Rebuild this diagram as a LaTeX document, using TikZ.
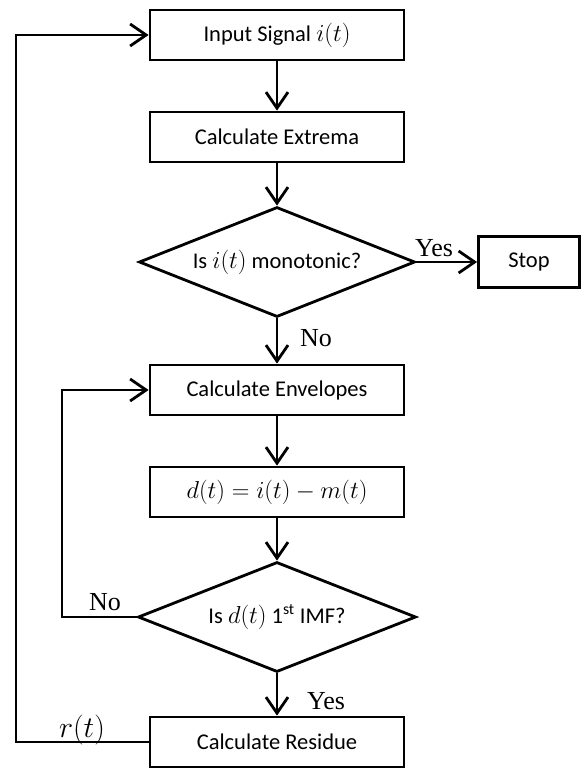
\documentclass[tikz,border=0pt]{standalone}
\usepackage{fix-cm}
\usepackage{fontspec}
\setmainfont{Carlito}
\newfontfamily\labfont{Liberation Serif}
\usetikzlibrary{shapes.geometric,arrows.meta}
\newcommand\mth[1]{{\fontsize{24.5}{28}\selectfont$#1$}}
\begin{document}
\begin{tikzpicture}[x=1pt,y=-1pt,
  every node/.style={font=\fontsize{22.5}{26}\selectfont},
  box/.style={draw,line width=2.8pt,minimum width=254pt,minimum height=50pt,inner sep=0pt},
  stopbox/.style={draw,line width=2.8pt,minimum width=101pt,minimum height=51pt,inner sep=0pt},
  dec/.style={draw,diamond,aspect=2.5,line width=2.8pt,minimum width=276pt,minimum height=110pt,inner sep=0pt},
  lab/.style={font=\labfont\fontsize{26}{30}\selectfont,inner sep=0pt},
  arr/.style={line width=2.8pt,-{Straight Barb[length=16pt,width=22pt,line width=2.8pt]}},
  ln/.style={line width=2.8pt}]
\useasboundingbox (0,0) rectangle (582,769);
\node[box] (in) at (277,35) {Input Signal \mth{i(t)}};
\node[box] (ext) at (277,137) {Calculate Extrema};
\node[dec] (d1) at (277,262) {Is \mth{i(t)} monotonic?};
\node[stopbox] (stop) at (529,262) {Stop};
\node[box] (env) at (277,390) {Calculate Envelopes};
\node[box] (dt) at (277,492) {\mth{d(t)=i(t)-m(t)}};
\node[dec,minimum width=278pt] (d2) at (277,617) {Is \mth{d(t)} 1\textsuperscript{st} IMF?};
\node[box] (res) at (277,742) {Calculate Residue};
\coordinate (innerx) at (62,617);
\coordinate (outerx) at (16,742);
\draw[arr] (in) -- (ext);
\draw[arr] (ext) -- (d1);
\draw[arr] (d1.east) -- (stop.west);
\draw[arr] (d1.south) -- (env.north);
\draw[arr] (env) -- (dt);
\draw[arr] (dt) -- (d2.north);
\draw[arr] (d2.south) -- (res.north);
\draw[arr] (d2.west) -- (innerx) |- (env.west);
\draw[arr] (res.west) -- (outerx) |- (in.west);
\node[lab] (yes1) at (434,248) {Yes};
\node[lab] (no1) at (316,338) {No};
\node[lab] (no2) at (105,602) {No};
\node[lab] (yes2) at (326,701) {Yes};
\node[inner sep=0pt,font=\fontsize{30}{34}\selectfont] (rt) at (82,730) {$r(t)$};
\end{tikzpicture}
\end{document}
